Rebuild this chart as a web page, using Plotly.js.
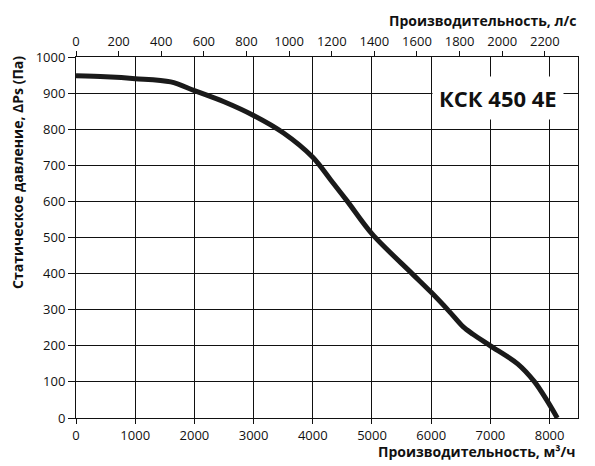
<!DOCTYPE html>
<html><head><meta charset="utf-8">
<script src="https://cdn.plot.ly/plotly-3.0.1.min.js"></script>
<style>html,body{margin:0;padding:0;background:#fff}</style>
</head><body>
<div id="chart" style="width:595px;height:466px"></div>
<script>
// Flow rate, m³/h
const flowM3h = [0, 500, 1000, 1600, 2000, 2500, 3000, 3500, 4000, 4300, 4585, 5000, 5677, 6000, 6312, 6537, 6706, 7000, 7460, 7747, 7950, 8130];
// Static pressure, Pa
const pressurePa = [948, 945, 940, 931, 907, 876, 838, 790, 722, 660, 600, 510, 400, 348, 294, 253, 232, 200, 150, 100, 50, 0];
const xTicksM3h = [0, 1000, 2000, 3000, 4000, 5000, 6000, 7000, 8000];
const xTicksLs = [0, 200, 400, 600, 800, 1000, 1200, 1400, 1600, 1800, 2000, 2200];
const yTicks = [0, 100, 200, 300, 400, 500, 600, 700, 800, 900, 1000];
const modelLabel = 'КСК 450 4E';
const xTitleBottom = 'Производительность, м³/ч';
const xTitleTop = 'Производительность, л/с';
const yTitle = 'Статическое давление, ΔPs (Па)';
const m3hPerLs = 3.6;
const xMax = 8480;

const flowLs = flowM3h.map(v => v / m3hPerLs);

const FONT = 'Open Sans, sans-serif';
const INK = '#111';
const data = [
  {x: flowM3h, y: pressurePa, mode: 'lines', line: {color: '#1a1a1a', width: 5, shape: 'spline', smoothing: 0.9}, hoverinfo: 'skip', showlegend: false},
  {x: flowLs, y: pressurePa, xaxis: 'x2', mode: 'lines', line: {width: 0, color: 'rgba(0,0,0,0)'}, hoverinfo: 'skip', showlegend: false}
];
const layout = {
  width: 595, height: 466,
  margin: {l: 76, r: 17, t: 57, b: 48},
  paper_bgcolor: '#fff', plot_bgcolor: '#fff',
  font: {family: FONT, size: 13, color: INK},
  showlegend: false,
  xaxis: {range: [0, xMax], tickvals: xTicksM3h, ticktext: xTicksM3h.map(String),
    showgrid: true, gridcolor: INK, gridwidth: 1, zeroline: false,
    showline: true, linecolor: INK, linewidth: 1, mirror: false,
    ticks: 'outside', ticklen: 5, tickcolor: INK, tickwidth: 1,
    tickfont: {size: 13, family: FONT}},
  xaxis2: {overlaying: 'x', side: 'top', range: [0, xMax / m3hPerLs], tickvals: xTicksLs, ticktext: xTicksLs.map(String),
    showgrid: false, zeroline: false, showline: true, linecolor: INK, linewidth: 1,
    ticks: 'outside', ticklen: 5, tickcolor: INK, tickwidth: 1,
    tickfont: {size: 13, family: FONT}},
  yaxis: {range: [0, 1000], tickvals: yTicks, ticktext: yTicks.map(String),
    showgrid: true, gridcolor: INK, gridwidth: 1, zeroline: false,
    showline: true, linecolor: INK, linewidth: 1, mirror: true,
    ticks: 'outside', ticklen: 7, tickcolor: INK, tickwidth: 1,
    tickfont: {size: 13, family: FONT}},
  annotations: [
    {text: '<b>' + modelLabel + '</b>', xref: 'paper', yref: 'paper', x: 0.84, y: 0.886, xanchor: 'center', yanchor: 'middle',
     showarrow: false, bgcolor: '#fff', borderpad: 6, font: {size: 22, family: FONT, color: INK}},
    {text: '<b>' + xTitleBottom + '</b>', xref: 'paper', yref: 'paper', x: 1.0, y: -0.094, xanchor: 'right', yanchor: 'middle',
     showarrow: false, font: {size: 14, family: FONT, color: INK}},
    {text: '<b>' + xTitleTop + '</b>', xref: 'paper', yref: 'paper', x: 1.0, y: 1.102, xanchor: 'right', yanchor: 'middle',
     showarrow: false, font: {size: 14, family: FONT, color: INK}},
    {text: '<b>' + yTitle + '</b>', xref: 'paper', yref: 'paper', x: -0.1155, y: 0.679, xanchor: 'center', yanchor: 'middle',
     textangle: -90, showarrow: false, font: {size: 14, family: FONT, color: INK}}
  ]
};
Plotly.newPlot('chart', data, layout, {displayModeBar: false, staticPlot: true});
</script>
</body></html>
